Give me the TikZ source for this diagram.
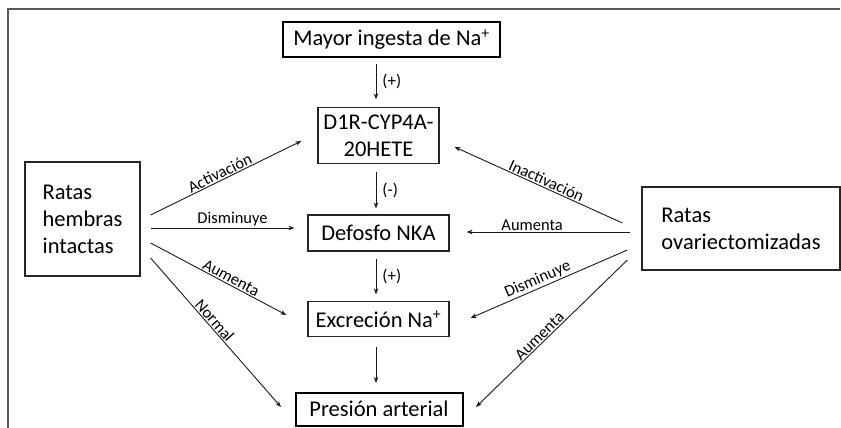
\documentclass[tikz,border=0pt]{standalone}
\usepackage{fontspec}
\setmainfont{Carlito}
\usetikzlibrary{arrows.meta}
\begin{document}
\begin{tikzpicture}[x=1pt,y=-1pt,
  boxthin/.style={draw=black!85,line width=1.2pt,inner sep=0pt,font=\fontsize{22.5}{27}\selectfont},
  boxthick/.style={draw=black,line width=2pt,inner sep=0pt,font=\fontsize{22.5}{27}\selectfont},
  conn/.style={draw=black!90,line width=0.9pt,-{Stealth[length=6pt,width=4.5pt]}},
  lab/.style={font=\fontsize{16.5}{18}\selectfont,inner sep=1pt,sloped,above},
  sign/.style={font=\fontsize{17}{19}\selectfont,inner sep=1pt,right=5pt}
]
\useasboundingbox (0,0) rectangle (841,428);
% frame
\draw[black!65,line width=1.2pt] (8,428) -- (8,9) -- (840,9);

\node[boxthick,minimum width=217pt,minimum height=35pt] (m) at (391.5,39.5) {Mayor ingesta de Na\textsuperscript{+}};
\node[boxthin,minimum width=121pt,minimum height=56pt,align=center] (d) at (378.5,135.5) {D1R-CYP4A-\\20HETE};
\node[boxthin,minimum width=141pt,minimum height=36pt] (n) at (378.5,233) {Defosfo NKA};
\node[boxthin,minimum width=141pt,minimum height=35pt] (e) at (378.5,319) {Excreción Na\textsuperscript{+}};
\node[boxthick,minimum width=167pt,minimum height=33pt] (p) at (379,409) {Presión arterial};
\node[boxthin,minimum width=115pt,minimum height=114pt,align=left] (h) at (82.5,219) {Ratas\\hembras\\intactas};
\node[boxthin,minimum width=198pt,minimum height=83pt,align=left] (o) at (741,228.5) {Ratas\\ovariectomizadas};

% vertical chain
\draw[conn] ([shift={(-15.5,6)}]m.south) -- node[sign]{(+)} ([shift={(-2.5,-7.5)}]d.north);
\draw[conn] ([shift={(-2.5,7.5)}]d.south) -- node[sign]{(-)} ([shift={(-2.5,-6)}]n.north);
\draw[conn] ([shift={(-2.5,7)}]n.south) -- node[sign]{(+)} ([shift={(-2.5,-6.5)}]e.north);
\draw[conn] ([shift={(-2.5,9.5)}]e.south) -- ([shift={(-3,-8.5)}]p.north);

% left
\draw[conn] ([shift={(10,-4)}]h.east) -- node[lab,pos=0.48]{Activación} ([shift={(-16,5.5)}]d.west);
\draw[conn] ([shift={(10,9)}]h.east) -- node[lab,pos=0.57]{Disminuye} ([shift={(-13,-5)}]n.west);
\draw[conn] ([shift={(10,24)}]h.east) -- node[lab,pos=0.57]{Aumenta} ([shift={(-21,-4)}]e.west);
\draw[conn] ([shift={(10,39)}]h.east) -- node[lab,pos=0.45]{Normal} ([shift={(-13.5,-2)}]p.west);

% right
\draw[conn] ([shift={(-19,-5.5)}]o.west) -- node[lab,pos=0.47]{Inactivación} ([shift={(15,11.5)}]d.east);
\draw[conn] ([shift={(-11,3.5)}]o.west) -- node[lab,pos=0.6]{Aumenta} ([shift={(17,-1)}]n.east);
\draw[conn] ([shift={(-14,21.5)}]o.west) -- node[lab,pos=0.55]{Disminuye} ([shift={(21,-1)}]e.east);
\draw[conn] ([shift={(-14,31.5)}]o.west) -- node[lab,pos=0.55]{Aumenta} ([shift={(12.5,-2)}]p.east);
\end{tikzpicture}
\end{document}
